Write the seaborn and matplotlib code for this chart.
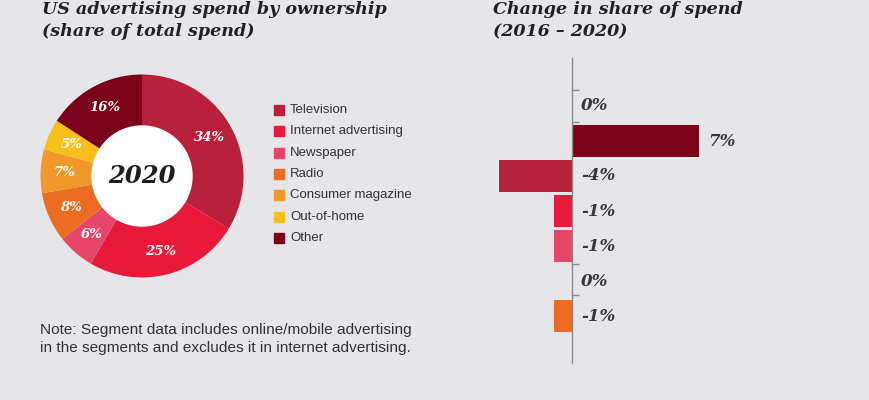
import matplotlib
matplotlib.use("Agg")
import matplotlib.pyplot as plt
import seaborn as sns
import pandas as pd
import numpy as np
from matplotlib.patches import Circle, Rectangle

# ---- data ----
segments = ["Television", "Internet advertising", "Newspaper", "Radio",
            "Consumer magazine", "Out-of-home", "Other"]
share_2020 = [34, 25, 6, 8, 7, 5, 16]
seg_colors = ["#b8213b", "#e8193a", "#e8456b", "#ec6d21",
              "#f2972a", "#f7be1c", "#7b0019"]

change_cats = ["Out-of-home", "Other", "Television", "Internet advertising",
               "Newspaper", "Consumer magazine", "Radio"]
change_vals = [0, 7, -4, -1, -1, 0, -1]
change_labels = ["0%", "7%", "-4%", "-1%", "-1%", "0%", "-1%"]

title_left = "US advertising spend by ownership\n(share of total spend)"
title_right = "Change in share of spend\n(2016 – 2020)"
center_text = "2020"
note_text = ("Note: Segment data includes online/mobile advertising\n"
             "in the segments and excludes it in internet advertising.")

BG = "#e6e6e8"
W, H = 870, 400

sns.set_theme(style="white")
plt.rcParams["font.family"] = ["DejaVu Sans"]

fig = plt.figure(figsize=(W / 100, H / 100), dpi=100, facecolor=BG)

def fx(px):
    return px / W

def fy(py):
    return 1 - py / H

# ---- donut ----
cx, cy, half = 142, 176, 110
ax1 = fig.add_axes([fx(cx - half), fy(cy + half), 2 * half / W, 2 * half / H])
ax1.set_facecolor(BG)
R = 1.015
ax1.pie(share_2020, colors=seg_colors, startangle=90,
        counterclock=False, radius=R,
        wedgeprops=dict(width=R - 0.5, linewidth=0))
cum = 0
for v in share_2020:
    mid = 90 - (cum + v / 2) / sum(share_2020) * 360
    cum += v
    rr = 0.775
    ax1.text(rr * np.cos(np.radians(mid)), rr * np.sin(np.radians(mid)), f"{v}%",
             ha="center", va="center", color="white", fontsize=9.5,
             family="DejaVu Serif", style="italic", weight="bold")
ax1.add_patch(Circle((0, 0), 0.5, color="white", zorder=3))
ax1.text(0, 0, center_text, ha="center", va="center", fontsize=17.5,
         family="DejaVu Serif", style="italic", weight="bold", color="#1e1e1e", zorder=4)
ax1.set_xlim(-1.1, 1.1)
ax1.set_ylim(-1.1, 1.1)
ax1.set_aspect("equal")
ax1.axis("off")

# ---- legend ----
leg_x, leg_y0, leg_dy = 274, 110, 21.3
for i, (name, col) in enumerate(zip(segments, seg_colors)):
    y = leg_y0 + i * leg_dy
    fig.patches.append(Rectangle((fx(leg_x), fy(y + 5)), 10 / W, 10 / H,
                                 transform=fig.transFigure, color=col))
    fig.text(fx(290), fy(y), name, ha="left", va="center", fontsize=9.5,
             family="Liberation Sans", color="#333333")

# ---- bar chart ----
left_px, right_px, axis_px = 480, 850, 572
ppu = 18.2
top_px, bot_px = 58, 363
row0, rowh = 106, 35
ax2 = fig.add_axes([fx(left_px), fy(bot_px), (right_px - left_px) / W, (bot_px - top_px) / H])
ax2.set_facecolor("none")
df = pd.DataFrame({"cat": change_cats, "val": change_vals})
cat_color = dict(zip(segments, seg_colors))
sns.barplot(data=df, y="cat", x="val", hue="cat", palette=cat_color,
            order=change_cats, hue_order=change_cats, orient="h",
            width=0.91, linewidth=0, legend=False, ax=ax2, saturation=1)
ax2.set_xlim(-(axis_px - left_px) / ppu, (right_px - axis_px) / ppu)
ax2.set_ylim((bot_px - row0) / rowh, -(row0 - top_px) / rowh)
for i, (v, lab) in enumerate(zip(change_vals, change_labels)):
    ax2.text(max(v, 0) + 0.5, i, lab, ha="left", va="center", fontsize=12,
             family="DejaVu Serif", style="italic", weight="bold", color="#383838")
for s in ["top", "right", "bottom"]:
    ax2.spines[s].set_visible(False)
ax2.spines["left"].set_position(("data", 0))
ax2.spines["left"].set_color("#8a8a8a")
ax2.spines["left"].set_linewidth(1.0)
ax2.set_xticks([])
ax2.set_yticks([-0.45, 0.45, 4.5, 5.4])
ax2.set_yticklabels([])
ax2.tick_params(axis="y", direction="in", length=5, width=1, color="#8a8a8a", left=True)
ax2.set_xlabel("")
ax2.set_ylabel("")

# ---- titles & note ----
tkw = dict(ha="left", va="baseline", fontsize=12.6, family="DejaVu Serif",
           style="italic", weight="bold", color="#222222", linespacing=1.4)
fig.text(fx(42), fy(36), title_left, **tkw)
fig.text(fx(493), fy(36), title_right, **tkw)
fig.text(fx(40), fy(352), note_text, ha="left", va="baseline", fontsize=11.1,
         family="Liberation Sans", color="#333333", linespacing=1.38)

fig.savefig("out.png", dpi=100, facecolor=BG)
